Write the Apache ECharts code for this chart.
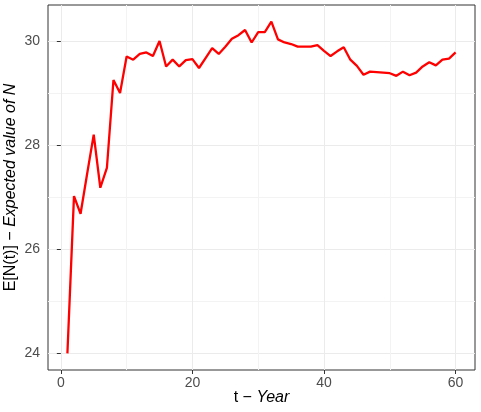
<!DOCTYPE html>
<html>
<head>
<meta charset="utf-8">
<script src="https://cdn.jsdelivr.net/npm/echarts@6/dist/echarts.min.js"></script>
<style>
  html, body { margin: 0; padding: 0; background: #fff; }
  #chart { width: 481px; height: 412px; }
</style>
</head>
<body>
<div id="chart"></div>
<script>
// t - Year
const years = [1, 2, 3, 4, 5, 6, 7, 8, 9, 10, 11, 12, 13, 14, 15, 16, 17, 18, 19, 20,
  21, 22, 23, 24, 25, 26, 27, 28, 29, 30, 31, 32, 33, 34, 35, 36, 37, 38, 39, 40,
  41, 42, 43, 44, 45, 46, 47, 48, 49, 50, 51, 52, 53, 54, 55, 56, 57, 58, 59, 60]
// E[N(t)]
const expectedN = [24.00, 27.02, 26.68, 27.45, 28.20, 27.18, 27.56, 29.25, 29.00, 29.70,
  29.64, 29.75, 29.78, 29.71, 30.00, 29.51, 29.64, 29.51, 29.63, 29.65,
  29.48, 29.67, 29.86, 29.75, 29.89, 30.04, 30.11, 30.21, 29.97, 30.17,
  30.17, 30.37, 30.03, 29.97, 29.94, 29.89, 29.89, 29.89, 29.92, 29.81,
  29.71, 29.80, 29.88, 29.64, 29.52, 29.35, 29.41, 29.40, 29.39, 29.38,
  29.33, 29.41, 29.34, 29.39, 29.51, 29.59, 29.53, 29.64, 29.66, 29.78]

const xTicks = [0, 20, 40, 60]
const xMinor = [10, 30, 50]
const yTicks = [24, 26, 28, 30]
const yMinor = [25, 27, 29]

const font = 'Liberation Sans, Arial, sans-serif'
const xRange = [-1.95, 62.95]
const yRange = [23.68, 30.69]

const chart = echarts.init(document.getElementById('chart'))

const minorAxis = (range, ticks) => ({
  type: 'value',
  min: range[0],
  max: range[1],
  axisLine: { show: false },
  axisLabel: { show: false },
  axisTick: { show: false, customValues: ticks },
  splitLine: { show: true, lineStyle: { color: '#F3F3F3', width: 1 } }
})

chart.setOption({
  animation: false,
  grid: {
    left: 48,
    right: 6,
    top: 5,
    bottom: 42,
    outerBoundsMode: 'none',
    containLabel: false,
    show: true,
    borderColor: '#333333',
    borderWidth: 1,
    backgroundColor: 'transparent'
  },
  xAxis: [
    {
      type: 'value',
      min: xRange[0],
      max: xRange[1],
      axisLine: { show: false },
      axisTick: { show: true, length: 4, customValues: xTicks, lineStyle: { color: '#333333' } },
      axisLabel: { customValues: xTicks, color: '#4D4D4D', fontSize: 14, fontFamily: font, margin: 6 },
      splitLine: { show: true, lineStyle: { color: '#EBEBEB', width: 1 } },
      name: '{n|t − }{i|Year}',
      nameLocation: 'middle',
      nameMoveOverlap: false,
      nameGap: 20,
      nameTextStyle: {
        rich: {
          n: { fontSize: 16, color: '#000', fontFamily: font },
          i: { fontSize: 16, color: '#000', fontFamily: font, fontStyle: 'italic' }
        }
      }
    },
    minorAxis(xRange, xMinor)
  ],
  yAxis: [
    {
      type: 'value',
      min: yRange[0],
      max: yRange[1],
      axisLine: { show: false },
      axisTick: { show: true, length: 4, customValues: yTicks, lineStyle: { color: '#333333' } },
      axisLabel: { customValues: yTicks, color: '#4D4D4D', fontSize: 14, fontFamily: font, margin: 8 },
      splitLine: { show: true, lineStyle: { color: '#EBEBEB', width: 1 } },
      name: '{n|E[N(t)] − }{i|Expected value of N}',
      nameLocation: 'middle',
      nameRotate: 90,
      nameMoveOverlap: false,
      nameGap: 29,
      nameTextStyle: {
        rich: {
          n: { fontSize: 16, color: '#000', fontFamily: font },
          i: { fontSize: 16, color: '#000', fontFamily: font, fontStyle: 'italic' }
        }
      }
    },
    minorAxis(yRange, yMinor)
  ],
  series: [
    {
      type: 'line',
      data: years.map((t, i) => [t, expectedN[i]]),
      showSymbol: false,
      lineStyle: { color: '#FF0000', width: 2.3 },
      z: 5
    }
  ]
})
</script>
</body>
</html>
